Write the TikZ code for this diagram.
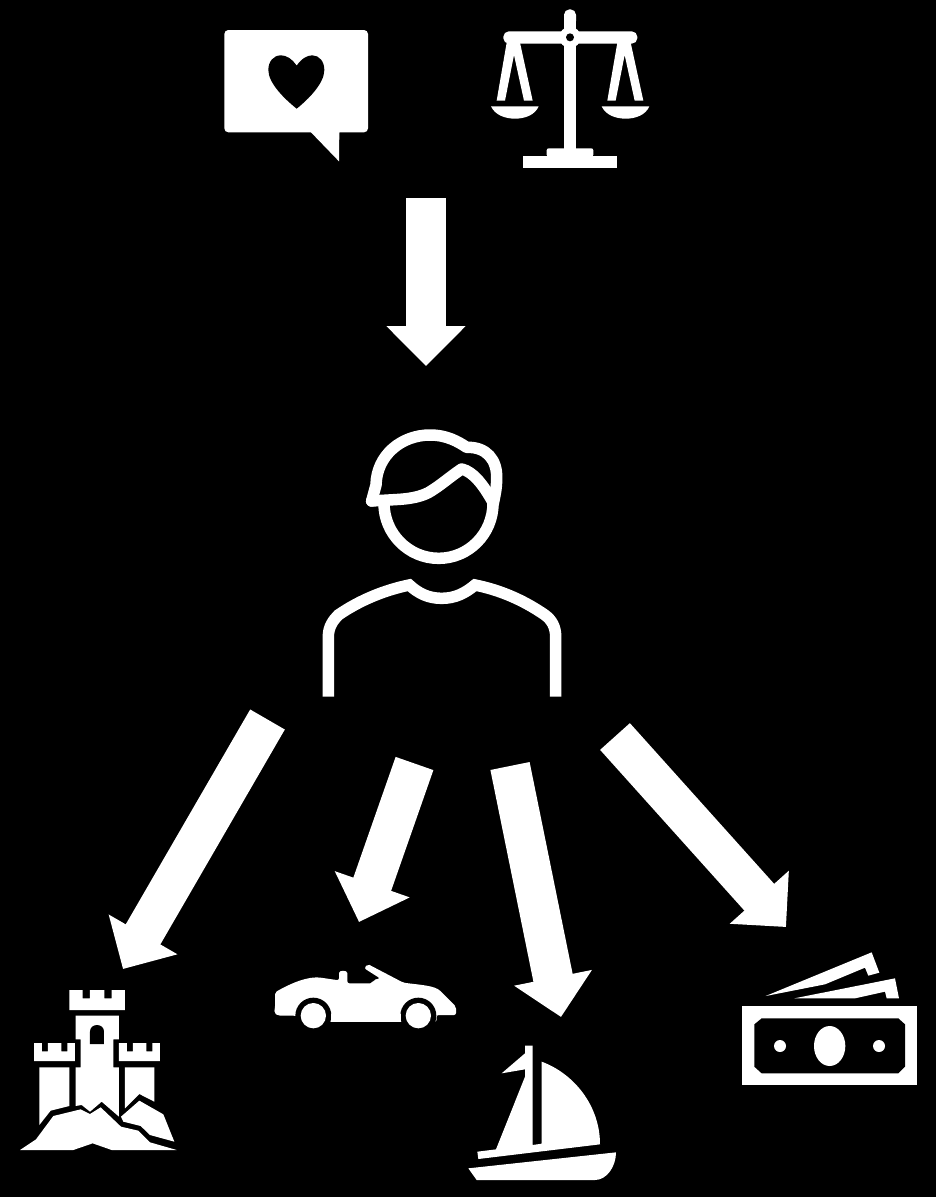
\documentclass[tikz,border=0pt]{standalone}
\usetikzlibrary{arrows.meta}
\tikzset{
  iconfill/.style={fill=white,draw=none},
  holefill/.style={fill=black,draw=none},
  bigarrow/.style={draw=white,line width=40pt,-{Triangle[length=40pt,width=77pt,fill=white]}},
  personline/.style={draw=white,line width=11.5pt,line join=round},
  zoomed/.style={shift={#1},scale=1/3}
}
\begin{document}
\begin{tikzpicture}[x=1pt,y=-1pt]
\useasboundingbox (0,0) rectangle (936,1197);
\fill[black] (0,0) rectangle (936,1197);

% speech bubble
\begin{scope}[zoomed={(210,0)}]
  \fill[iconfill,rounded corners=4pt] (43,90) rectangle (474,397);
  \fill[iconfill] (300,390) -- (303,397) -- (387,484) -- (388,397) -- (400,390) -- cycle;
  \fill[holefill] (260,197) .. controls (245,175) and (228,166) .. (213,166)
    .. controls (190,166) and (175,185) .. (175,210)
    .. controls (175,250) and (225,298) .. (260,326)
    .. controls (295,298) and (343,250) .. (343,210)
    .. controls (343,185) and (328,166) .. (307,166)
    .. controls (292,166) and (275,175) .. (260,197) -- cycle;
\end{scope}

% scales
\begin{scope}[zoomed={(210,0)}]
  \fill[iconfill,rounded corners=5.5pt] (880,94) rectangle (1282,131);
  \fill[iconfill,rounded corners=5.5pt] (1062,28) rectangle (1098,80);
  \fill[iconfill] (1062,60) rectangle (1098,450);
  \fill[iconfill] (1080,112) circle[radius=32];
  \fill[holefill] (1080,112) circle[radius=12];
  \fill[iconfill,rounded corners=2pt] (1010,470) -- (1010,445) -- (1150,445) -- (1150,470) -- cycle;
  \fill[iconfill] (938,468) rectangle (1222,503);
  \foreach \dx in {0,332}{
    \begin{scope}[xshift=\dx*1pt]
      \fill[iconfill] (890,128) -- (930,128) -- (968,302) -- (942,302) -- (912,165) -- (885,302) -- (860,302) -- cycle;
      \fill[iconfill] (843,319) -- (986,319) .. controls (975,345) and (945,356) .. (915,356)
        .. controls (885,356) and (855,345) .. (843,319) -- cycle;
    \end{scope}
  }
\end{scope}

% person
\begin{scope}[zoomed={(310,420)}]
  \draw[personline] (222,250) .. controls (222,340) and (295,415) .. (386,415)
    .. controls (477,415) and (549,340) .. (549,250);
  \draw[personline,line cap=round] (185,243) -- (198,195) .. controls (200,105) and (275,45) .. (360,45)
    .. controls (410,45) and (445,65) .. (470,82)
    .. controls (530,80) and (562,120) .. (560,175)
    .. controls (560,205) and (555,225) .. (550,250);
  \draw[personline,line cap=round] (185,243) -- (270,238) .. controls (310,235) and (335,228) .. (355,218)
    .. controls (390,198) and (420,170) .. (455,147)
    .. controls (490,155) and (520,195) .. (548,245);
  \draw[personline,line join=miter] (55,830) -- (55,650) .. controls (55,620) and (70,600) .. (85,585)
    .. controls (150,540) and (225,510) .. (298,495)
    .. controls (325,520) and (355,535) .. (395,535)
    .. controls (435,535) and (465,520) .. (495,495)
    .. controls (570,510) and (640,540) .. (705,585)
    .. controls (725,600) and (737,620) .. (737,650) -- (737,830);
\end{scope}

% castle
\begin{scope}[zoomed={(10,980)}]
  \fill[iconfill] (178,30) -- (218,30) -- (218,55) -- (240,55) -- (240,30) -- (283,30) -- (283,55) -- (305,55) -- (305,30) -- (345,30) -- (345,90) -- (178,90) -- cycle;
  \fill[iconfill] (197,107) -- (327,107) -- (327,178) -- (310,178) -- (310,262) -- (327,262) -- (327,410) -- (275,365) -- (240,395) -- (215,375) -- (197,378) -- (197,262) -- (212,262) -- (212,178) -- (197,178) -- cycle;
  \fill[holefill] (240,192) -- (240,155) .. controls (240,142) and (250,135) .. (261,135) .. controls (272,135) and (282,142) .. (282,155) -- (282,192) -- cycle;
  \foreach \dx in {0,255}{
    \begin{scope}[xshift=\dx*1pt]
      \fill[iconfill] (72,189) -- (96,189) -- (96,214) -- (114,214) -- (114,189) -- (154,189) -- (154,214) -- (172,214) -- (172,189) -- (195,189) -- (195,243) -- (72,243) -- cycle;
    \end{scope}
  }
  \fill[iconfill] (88,262) -- (178,262) -- (178,378) -- (122,392) -- (88,435) -- cycle;
  \fill[iconfill] (345,262) -- (433,262) -- (433,365) -- (388,342) -- (345,385) -- cycle;
  \fill[iconfill] (30,510) -- (190,510) -- (248,490) -- (305,510) -- (500,510) -- (420,487) -- (385,452) -- (333,440) -- (272,382) -- (240,402) -- (212,388) -- (130,408) -- (78,478) -- cycle;
  \fill[iconfill] (333,410) -- (388,362) -- (460,403) -- (493,485) -- (420,465) -- (392,438) -- (340,425) -- cycle;
\end{scope}

% car
\begin{scope}[zoomed={(265,955)}]
  \fill[iconfill,rounded corners=2pt] (30,112) .. controls (60,95) and (110,68) .. (160,67) -- (222,76) -- (222,60)
    .. controls (222,45) and (247,45) .. (247,60) -- (247,85) -- (322,85) -- (325,75) -- (345,70) -- (298,40) -- (308,27)
    -- (415,83) .. controls (470,90) and (510,92) .. (530,112) -- (573,155) -- (573,180) -- (515,180) -- (515,200) -- (195,200) -- (90,182) -- (40,182) -- (27,174) -- (30,160) -- cycle;
  \fill[holefill] (145,182) circle[radius=54];
  \fill[holefill] (460,182) circle[radius=54];
  \fill[iconfill] (145,182) circle[radius=38];
  \fill[iconfill] (460,182) circle[radius=38];
  \fill[iconfill] (198,178) rectangle (407,200);
\end{scope}

% boat
\begin{scope}[zoomed={(460,1035)}]
  \fill[iconfill] (52,350) -- (108,343) -- (195,125) -- (195,103) -- (125,115) -- (195,55) -- (195,32) -- (218,32) -- (218,330) -- (245,326) -- (245,80)
    .. controls (340,115) and (420,210) .. (420,328) -- (55,372) -- cycle;
  \fill[iconfill] (25,400) -- (468,352) .. controls (468,395) and (440,435) .. (405,435) -- (50,435) -- cycle;
\end{scope}

% money
\begin{scope}[zoomed={(735,945)}]
  \fill[iconfill] (22,183) rectangle (545,420);
  \fill[holefill] (80,220) -- (490,220) -- (510,238) -- (510,365) -- (490,385) -- (80,385) -- (58,365) -- (58,238) -- cycle;
  \fill[iconfill] (284,303) ellipse[x radius=47,y radius=60];
  \fill[iconfill] (135,303) circle[radius=18];
  \fill[iconfill] (432,303) circle[radius=18];
  \fill[iconfill] (92,153) -- (410,22) -- (433,83) -- (400,92) -- (390,68) -- (270,118) -- cycle;
  \fill[iconfill] (178,160) -- (480,100) -- (492,160) -- (455,160) -- (450,140) -- (360,160) -- cycle;
\end{scope}

% arrows
\coordinate (valuesOut) at (426,198);
\coordinate (personIn) at (426,366);
\coordinate (personA) at (267.5,719.5);
\coordinate (castleIn) at (123,969);
\coordinate (personB) at (414.5,763.5);
\coordinate (carIn) at (359,922);
\coordinate (personC) at (510,766);
\coordinate (boatIn) at (561,1017);
\coordinate (personD) at (615,736.5);
\coordinate (moneyIn) at (786,927);
\draw[bigarrow] (valuesOut) -- (personIn);
\draw[bigarrow] (personA) -- (castleIn);
\draw[bigarrow] (personB) -- (carIn);
\draw[bigarrow] (personC) -- (boatIn);
\draw[bigarrow] (personD) -- (moneyIn);
\end{tikzpicture}
\end{document}
